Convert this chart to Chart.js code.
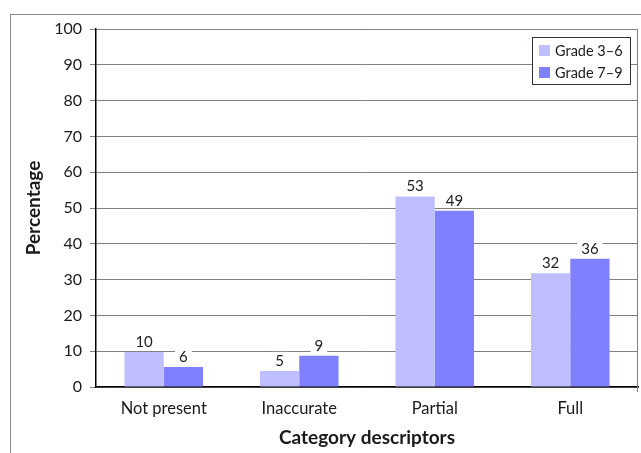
<!DOCTYPE html>
<html>
<head>
<meta charset="utf-8">
<script src="https://cdn.jsdelivr.net/npm/chart.js@4/dist/chart.umd.min.js"></script>
<style>
    html, body { margin: 0; padding: 0; background: #fff; }
    #wrap { position: relative; width: 641px; height: 453px; overflow: hidden; }
    #frame { position: absolute; left: 10px; top: 14px; width: 700px; height: 500px; border-left: 1px solid #8a8a8a; border-top: 1px solid #8a8a8a; }
    canvas { position: absolute; left: 0; top: 0; }
</style>
</head>
<body>
<div id="wrap">
    <div id="frame"></div>
    <canvas id="chart" width="641" height="453"></canvas>
</div>
<script>
const categories = ['Not present', 'Inaccurate', 'Partial', 'Full'];
const seriesNames = ['Grade 3\u20136', 'Grade 7\u20139'];
const grade36 = [9.8, 4.5, 53.2, 31.8];
const grade79 = [5.6, 8.7, 49.2, 35.8];
const yTicks = [0, 10, 20, 30, 40, 50, 60, 70, 80, 90, 100];

const FONT = 'Lato, "Open Sans", sans-serif';
const colors = ['#bfbfff', '#8080ff'];

// Labels above bars, white box so gridlines are hidden behind them
const barLabels = {
    id: 'barLabels',
    afterDatasetsDraw(chart) {
        const ctx = chart.ctx;
        ctx.save();
        ctx.font = '15px ' + FONT;
        ctx.textAlign = 'center';
        ctx.textBaseline = 'middle';
        chart.data.datasets.forEach((ds, i) => {
            chart.getDatasetMeta(i).data.forEach((bar, j) => {
                const txt = String(Math.round(ds.data[j]));
                const w = ctx.measureText(txt).width + 8;
                const cy = bar.y - 11;
                ctx.fillStyle = '#fff';
                ctx.fillRect(bar.x - w / 2, cy - 8, w, 16);
                ctx.fillStyle = '#222';
                ctx.fillText(txt, bar.x, cy + 1);
            });
        });
        ctx.restore();
    }
};

// Boxed legend in the top right of the plot
const boxLegend = {
    id: 'boxLegend',
    afterDraw(chart) {
        const ctx = chart.ctx;
        const x = 532, y = 37, w = 98, h = 47;
        ctx.save();
        ctx.fillStyle = '#fff';
        ctx.fillRect(x, y, w, h);
        ctx.strokeStyle = '#333';
        ctx.lineWidth = 1;
        ctx.strokeRect(x + 0.5, y + 0.5, w, h);
        ctx.font = '14.5px ' + FONT;
        ctx.textBaseline = 'middle';
        chart.data.datasets.forEach((ds, i) => {
            const cy = y + 13 + i * 22;
            ctx.fillStyle = ds.backgroundColor;
            ctx.fillRect(x + 7, cy - 5, 11, 11);
            ctx.fillStyle = '#1a1a1a';
            ctx.fillText(ds.label, x + 23, cy + 1);
        });
        ctx.restore();
    }
};

// right border of plot area
const plotBorder = {
    id: 'plotBorder',
    afterDraw(chart) {
        const a = chart.chartArea;
        const ctx = chart.ctx;
        ctx.save();
        ctx.strokeStyle = '#808080';
        ctx.lineWidth = 1;
        ctx.beginPath();
        ctx.moveTo(Math.round(a.right) - 0.5, a.top);
        ctx.lineTo(Math.round(a.right) - 0.5, a.bottom + 5);
        ctx.stroke();
        ctx.restore();
    }
};

new Chart(document.getElementById('chart'), {
    type: 'bar',
    data: {
        labels: categories,
        datasets: [
            { label: seriesNames[0], data: grade36, backgroundColor: colors[0] },
            { label: seriesNames[1], data: grade79, backgroundColor: colors[1] }
        ]
    },
    options: {
        responsive: false,
        animation: false,
        devicePixelRatio: 1,
        layout: { padding: { left: 0, right: 3, top: 29, bottom: 0 } },
        datasets: { bar: { categoryPercentage: 0.58, barPercentage: 1 } },
        plugins: { legend: { display: false }, tooltip: { enabled: false } },
        scales: {
            x: {
                afterFit(scale) { scale.height = 66; },
                grid: { display: false, drawTicks: false },
                border: { color: '#000', width: 1.5 },
                ticks: { color: '#1a1a1a', font: { family: FONT, size: 16.5 }, padding: 12 },
                title: { display: true, text: 'Category descriptors', color: '#1a1a1a', font: { family: FONT, size: 19, weight: 'bold' }, padding: { top: 2 } }
            },
            y: {
                min: 0, max: 100,
                afterFit(scale) { scale.width = 96; },
                afterBuildTicks(scale) { scale.ticks = yTicks.map(v => ({ value: v })); },
                grid: { color: '#808080', lineWidth: 1, tickLength: 6 },
                border: { color: '#000', width: 1.5 },
                ticks: { color: '#1a1a1a', font: { family: FONT, size: 16 }, padding: 8 },
                title: { display: true, text: 'Percentage', color: '#1a1a1a', font: { family: FONT, size: 19, weight: 'bold' }, padding: { top: 22, bottom: 10 } }
            }
        }
    },
    plugins: [barLabels, boxLegend, plotBorder]
});
</script>
</body>
</html>
